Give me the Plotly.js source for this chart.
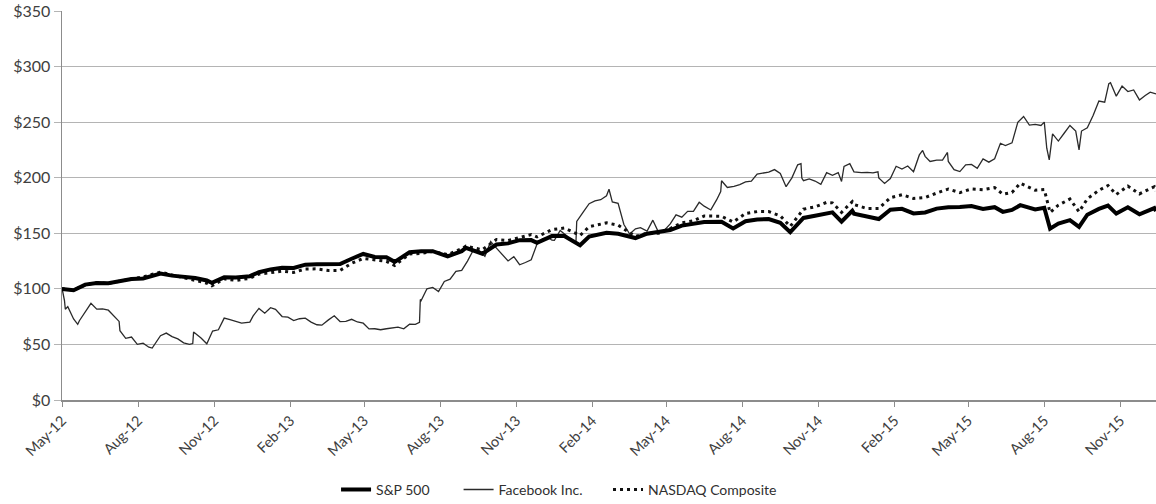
<!DOCTYPE html>
<html>
<head>
<meta charset="utf-8">
<script src="https://cdn.plot.ly/plotly-3.0.1.min.js"></script>
<style>html,body{margin:0;padding:0;background:#fff;}#chart{width:1156px;height:504px;}</style>
</head>
<body>
<div id="chart"></div>
<script>
// Index series sample dates (shared by S&P 500 and NASDAQ Composite)
const idxDates = [
 '2012-05-18','2012-06-01','2012-06-15','2012-06-29','2012-07-13','2012-07-27','2012-08-10','2012-08-24','2012-09-14','2012-09-28','2012-10-12','2012-10-26','2012-11-09','2012-11-15','2012-11-30','2012-12-14','2012-12-31',
 '2013-01-11','2013-01-25','2013-02-08','2013-02-22','2013-03-08','2013-03-22','2013-04-05','2013-04-19','2013-05-03','2013-05-17','2013-05-31','2013-06-14','2013-06-24','2013-07-12','2013-07-26','2013-08-09','2013-08-27','2013-09-13','2013-09-18','2013-10-08','2013-10-25','2013-11-08','2013-11-22','2013-12-06','2013-12-13','2013-12-31',
 '2014-01-15','2014-02-03','2014-02-14','2014-03-07','2014-03-21','2014-04-11','2014-04-25','2014-05-09','2014-05-23','2014-06-06','2014-06-20','2014-07-03','2014-07-24','2014-08-07','2014-08-22','2014-09-05','2014-09-19','2014-10-03','2014-10-15','2014-10-31','2014-11-14','2014-11-28','2014-12-05','2014-12-16','2014-12-29','2014-12-31',
 '2015-01-16','2015-01-30','2015-02-13','2015-02-27','2015-03-13','2015-03-27','2015-04-10','2015-04-24','2015-05-08','2015-05-22','2015-06-05','2015-06-19','2015-06-29','2015-07-10','2015-07-20','2015-08-07','2015-08-18','2015-08-25','2015-09-04','2015-09-18','2015-09-29','2015-10-09','2015-10-23','2015-11-03','2015-11-13','2015-11-27','2015-12-11','2015-12-29','2015-12-31'
];
const spValues = [
 100,98.7,103.8,105.3,105.1,107.3,108.9,109.4,113.8,111.9,111.1,109.8,107.5,105.4,110.4,110.2,111.4,
 115.0,117.5,118.9,118.8,121.8,122.2,122.1,122.3,127.1,131.4,128.7,128.4,124.3,132.9,133.9,133.9,129.2,133.9,136.9,131.6,139.9,140.9,143.8,143.9,141.5,147.5,
 147.6,139.3,147.1,150.5,149.6,145.7,149.6,151.0,152.9,156.9,158.1,160.1,160.4,154.3,160.8,162.4,162.8,159.4,151.0,163.8,165.7,168.1,168.8,160.5,170.2,167.7,
 164.6,162.8,171.2,172.0,167.9,168.7,172.2,173.5,173.6,174.6,171.9,173.5,169.3,171.0,175.3,171.4,173.0,154.2,158.7,161.8,155.8,166.7,171.9,174.9,167.7,173.4,167.1,172.7,170.0
];
const nasdaqValues = [
 100,98.9,103.4,105.8,104.9,106.7,109.0,110.8,115.0,112.6,110.1,108.0,105.1,102.7,109.0,107.6,109.5,
 113.3,114.3,115.9,114.8,117.9,118.0,116.5,116.6,123.0,127.4,125.9,124.8,121.1,131.4,131.9,133.7,130.8,136.1,138.4,135.2,144.4,143.5,146.2,148.9,146.7,153.3,
 154.7,148.1,155.9,159.4,157.3,147.2,150.1,150.0,154.3,159.4,161.2,165.6,165.3,160.2,167.8,169.5,169.5,165.7,156.2,171.7,173.8,177.8,177.4,168.9,178.5,175.9,
 172.2,172.3,182.0,184.7,181.3,182.2,186.2,189.8,186.6,189.9,189.2,191.1,185.2,186.8,195.1,188.7,189.3,168.7,175.3,180.8,169.3,181.0,188.7,193.0,184.9,192.5,185.4,191.9,188.2
];

// Facebook Inc. sample dates and values
const fbDates = [
 '2012-05-18','2012-05-21','2012-05-22','2012-05-25','2012-06-01','2012-06-06','2012-06-08','2012-06-15','2012-06-22','2012-06-29','2012-07-06','2012-07-13','2012-07-20','2012-07-26','2012-07-27','2012-08-03','2012-08-10','2012-08-17','2012-08-24','2012-08-31','2012-09-04','2012-09-07','2012-09-14','2012-09-21','2012-09-28','2012-10-05','2012-10-12','2012-10-19','2012-10-23','2012-10-24','2012-11-02','2012-11-09','2012-11-14','2012-11-16','2012-11-23','2012-11-30','2012-12-07','2012-12-14','2012-12-21','2012-12-31',
 '2013-01-04','2013-01-11','2013-01-18','2013-01-25','2013-01-31','2013-02-08','2013-02-15','2013-02-22','2013-03-01','2013-03-08','2013-03-15','2013-03-22','2013-03-28','2013-04-05','2013-04-12','2013-04-19','2013-04-26','2013-05-03','2013-05-10','2013-05-17','2013-05-24','2013-05-31','2013-06-07','2013-06-14','2013-06-21','2013-06-28','2013-07-05','2013-07-12','2013-07-19','2013-07-24','2013-07-25','2013-07-26','2013-08-02','2013-08-09','2013-08-16','2013-08-23','2013-08-30','2013-09-06','2013-09-13','2013-09-20','2013-09-27','2013-10-04','2013-10-11','2013-10-18','2013-10-25','2013-10-31','2013-11-08','2013-11-15','2013-11-22','2013-11-29','2013-12-06','2013-12-13','2013-12-20','2013-12-27','2013-12-31',
 '2014-01-03','2014-01-10','2014-01-17','2014-01-24','2014-01-29','2014-01-30','2014-02-07','2014-02-14','2014-02-21','2014-02-28','2014-03-07','2014-03-10','2014-03-14','2014-03-21','2014-03-28','2014-04-04','2014-04-11','2014-04-17','2014-04-25','2014-05-02','2014-05-09','2014-05-16','2014-05-23','2014-05-30','2014-06-06','2014-06-13','2014-06-20','2014-06-27','2014-07-03','2014-07-11','2014-07-18','2014-07-23','2014-07-24','2014-07-31','2014-08-08','2014-08-15','2014-08-22','2014-08-29','2014-09-05','2014-09-12','2014-09-19','2014-09-26','2014-10-03','2014-10-10','2014-10-17','2014-10-24','2014-10-28','2014-10-29','2014-10-31','2014-11-07','2014-11-14','2014-11-21','2014-11-28','2014-12-05','2014-12-12','2014-12-16','2014-12-19','2014-12-26','2014-12-31',
 '2015-01-09','2015-01-16','2015-01-23','2015-01-29','2015-01-30','2015-02-06','2015-02-13','2015-02-20','2015-02-27','2015-03-06','2015-03-13','2015-03-20','2015-03-24','2015-03-27','2015-04-02','2015-04-10','2015-04-17','2015-04-23','2015-04-24','2015-05-01','2015-05-08','2015-05-15','2015-05-22','2015-05-29','2015-06-05','2015-06-12','2015-06-19','2015-06-26','2015-07-02','2015-07-10','2015-07-17','2015-07-24','2015-07-31','2015-08-07','2015-08-14','2015-08-18','2015-08-21','2015-08-24','2015-08-28','2015-09-04','2015-09-11','2015-09-18','2015-09-25','2015-09-29','2015-10-02','2015-10-09','2015-10-16','2015-10-23','2015-10-30','2015-11-04','2015-11-06','2015-11-13','2015-11-20','2015-11-27','2015-12-04','2015-12-11','2015-12-18','2015-12-24','2015-12-31'
];
const fbValues = [
 100.6,89.5,81.6,84.0,72.9,68.1,71.3,79.0,87.0,81.8,82.0,80.8,75.7,70.7,62.4,55.5,56.6,50.1,51.1,47.5,46.7,49.9,57.9,60.2,57.0,55.0,51.4,50.0,50.8,61.1,55.8,50.6,58.8,62.0,63.2,73.7,72.3,70.6,69.1,70.1,
 75.7,82.4,78.1,83.0,81.5,75.1,74.5,71.4,73.1,73.6,70.1,67.7,67.3,72.1,75.8,70.6,70.7,72.6,70.2,69.1,64.0,64.1,63.2,64.1,64.6,65.5,64.1,68.2,68.1,69.8,90.4,89.5,100.1,101.3,97.6,106.7,108.7,115.7,116.6,125.0,134.8,134.3,129.2,142.7,136.7,132.1,125.1,129.0,121.7,123.7,126.2,140.3,145.1,145.9,143.8,
 143.6,152.5,148.2,143.3,140.9,160.7,169.3,176.6,179.1,180.2,183.7,189.6,178.2,176.9,157.9,149.3,154.0,155.1,151.9,161.8,150.6,152.7,158.4,166.6,164.5,169.7,169.7,177.9,174.4,171.0,180.0,187.6,197.3,191.2,192.3,193.8,196.2,196.9,203.3,203.9,205.0,207.3,203.8,191.9,199.9,211.6,212.6,199.6,197.3,199.0,197.0,194.0,204.5,202.2,204.6,196.6,210.2,212.6,205.3,
 204.6,204.8,204.3,205.3,199.8,194.9,199.3,210.3,207.8,210.6,205.4,220.5,224.5,219.2,214.6,215.9,215.9,222.7,214.6,207.3,205.5,211.6,212.0,208.4,217.0,214.0,217.1,231.0,229.0,231.4,249.9,255.1,247.4,248.0,247.0,250.0,226.5,216.0,239.5,233.0,240.0,247.0,242.0,225.0,242.0,245.0,256.0,269.0,268.0,284.7,285.5,273.4,282.4,277.5,279.0,270.0,274.0,277.0,275.4
];

// Axis ticks
const tickDates = ['2012-05-18','2012-08-18','2012-11-18','2013-02-18','2013-05-18','2013-08-18','2013-11-18','2014-02-18','2014-05-18','2014-08-18','2014-11-18','2015-02-18','2015-05-18','2015-08-18','2015-11-18'];
const tickLabels = ['May-12','Aug-12','Nov-12','Feb-13','May-13','Aug-13','Nov-13','Feb-14','May-14','Aug-14','Nov-14','Feb-15','May-15','Aug-15','Nov-15'];
const yTicks = [0,50,100,150,200,250,300,350];
const yTickLabels = ['$0','$50','$100','$150','$200','$250','$300','$350'];

const traces = [
  {x: fbDates, y: fbValues, name: 'Facebook Inc.', type: 'scatter', mode: 'lines',
   line: {color: '#2a2a2a', width: 1.3}, legend: 'legend2'},
  {x: idxDates, y: nasdaqValues, name: 'NASDAQ Composite', type: 'scatter', mode: 'lines',
   line: {color: '#111', width: 3, dash: '3px,4px'}, legend: 'legend3'},
  {x: idxDates, y: spValues, name: 'S&P 500', type: 'scatter', mode: 'lines',
   line: {color: '#000', width: 4}, legend: 'legend'}
];

const legendBase = {orientation: 'h', xanchor: 'left', yref: 'container', y: 0.028, yanchor: 'middle',
  font: {size: 14, color: '#303030'}, bgcolor: 'rgba(0,0,0,0)', borderwidth: 0};

const layout = {
  width: 1156, height: 504,
  margin: {l: 62, r: 0, t: 11, b: 104, autoexpand: false},
  paper_bgcolor: '#fff', plot_bgcolor: '#fff',
  font: {family: 'Lato, "Open Sans", sans-serif', size: 14, color: '#404040'},
  showlegend: true,
  legend: Object.assign({}, legendBase, {x: 0.2505}),
  legend2: Object.assign({}, legendBase, {x: 0.3625}),
  legend3: Object.assign({}, legendBase, {x: 0.4991}),
  xaxis: {type: 'date', range: ['2012-05-18', '2015-12-31'], automargin: false,
    tickmode: 'array', tickvals: tickDates, ticktext: tickLabels, tickangle: -45,
    showgrid: false, showline: true, linecolor: '#8c8c8c', linewidth: 1.5,
    ticks: 'outside', ticklen: 5, tickcolor: '#8c8c8c', tickfont: {size: 14.5, color: '#404040'},
    zeroline: false, fixedrange: true},
  yaxis: {range: [0, 350], automargin: false, tickmode: 'array', tickvals: yTicks, ticktext: yTickLabels,
    showgrid: true, gridcolor: '#b4b4b4', gridwidth: 1.2,
    showline: true, linecolor: '#8c8c8c', linewidth: 1.5,
    ticks: 'outside', ticklen: 7, tickcolor: '#b4b4b4', tickfont: {size: 16, color: '#404040'},
    zeroline: false, fixedrange: true}
};

Plotly.newPlot('chart', traces, layout, {displayModeBar: false, staticPlot: true});
</script>
</body>
</html>
